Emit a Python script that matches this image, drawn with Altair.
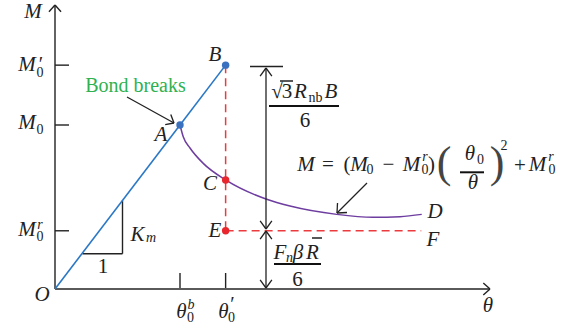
import math
import altair as alt
import pandas as pd

# Canvas and unit sizes (pixels per unit of theta and of M)
W, H = 575, 334
X0, Y0 = 55, 289
SX, SY = 125, 164
FONT = "Liberation Serif"


def tx(px):
    return (px - X0) / SX


def my(py):
    return (Y0 - py) / SY


# Characteristic values (theta in units of theta0^b, M in units of M0)
theta_b = 1.0
theta_p = 1.365
theta_end = 2.93
M_0 = 1.0
M_0p = 1.365
M_0r = 0.355
M_C = 0.665

# Elastic branch O -> A -> B
line_theta = [0.0, theta_b, theta_p]
line_M = [0.0, M_0, M_0p]

# Post-breakage branch A -> C -> D
curve_theta = [1.0, 1.026, 1.08, 1.186, theta_p, 1.694, 1.88, 2.254, 2.544, 2.76, 2.934]
curve_M = [M_0, 0.928, 0.86, 0.766, M_C, 0.547, 0.506, 0.455, 0.437, 0.441, 0.455]

# Marked states
blue_theta = [theta_b, theta_p]
blue_M = [M_0, M_0p]
red_theta = [theta_p, theta_p]
red_M = [M_C, M_0r]

ytick_vals = [M_0p, M_0, M_0r]
xtick_vals = [theta_b, theta_p]

xs = alt.Scale(domain=[tx(0), tx(W)], nice=False, zero=False)
ys = alt.Scale(domain=[my(H), my(0)], nice=False, zero=False)


def X(f):
    return alt.X(f, type="quantitative", scale=xs, axis=None)


def Y(f):
    return alt.Y(f, type="quantitative", scale=ys, axis=None)


def rules(df, color, width, dash=None):
    kw = dict(color=color, strokeWidth=width, strokeCap="butt")
    if dash:
        kw["strokeDash"] = dash
    return alt.Chart(df).mark_rule(**kw).encode(
        x=X("x"), y=Y("y"), x2=alt.X2("x2"), y2=alt.Y2("y2")
    )


def seg_df(segs):
    return pd.DataFrame(
        [dict(x=a[0], y=a[1], x2=b[0], y2=b[1]) for a, b in segs]
    )


def px_seg(p, q):
    return ((tx(p[0]), my(p[1])), (tx(q[0]), my(q[1])))


def head(tip, frm, length, ang):
    """Open arrowhead (two strokes) at tip, pointing away from frm (pixels)."""
    dx, dy = tip[0] - frm[0], tip[1] - frm[1]
    n = math.hypot(dx, dy)
    bx, by = -dx / n, -dy / n
    out = []
    for s in (1, -1):
        a = math.radians(ang) * s
        rx = bx * math.cos(a) - by * math.sin(a)
        ry = bx * math.sin(a) + by * math.cos(a)
        out.append(px_seg(tip, (tip[0] + length * rx, tip[1] + length * ry)))
    return out


# Axes
y_axis = rules(seg_df([((0, 0), (0, my(5)))]), "#222222", 1.4)
x_axis = rules(seg_df([((0, 0), (tx(490), 0))]), "#5a5a5a", 2)
axis_heads = rules(
    seg_df(head((55, 5), (55, 50), 9, 42) + head((490, 289), (400, 289), 9, 42)),
    "#222222", 1.4,
)
ticks = rules(
    seg_df([((0, v), (tx(69), v)) for v in ytick_vals]
           + [((v, 0), (v, my(273))) for v in xtick_vals]),
    "#222222", 1.4,
)

# Branches
elastic = alt.Chart(pd.DataFrame({"t": line_theta, "m": line_M})).mark_line(
    color="#2a78c6", strokeWidth=1.6
).encode(x=X("t"), y=Y("m"))

softening = alt.Chart(pd.DataFrame({"t": curve_theta, "m": curve_M})).mark_line(
    color="#6e3da0", strokeWidth=1.5, interpolate="monotone"
).encode(x=X("t"), y=Y("m"))

residual = rules(
    seg_df([((theta_p, M_0p), (theta_p, M_0r)), ((theta_p, M_0r), (theta_end, M_0r))]),
    "#ec3b3f", 1.5, dash=[8, 5],
)

blue_dots = alt.Chart(pd.DataFrame({"t": blue_theta, "m": blue_M})).mark_circle(
    color="#3a72c0", size=55, opacity=1
).encode(x=X("t"), y=Y("m"))

red_dots = alt.Chart(pd.DataFrame({"t": red_theta, "m": red_M})).mark_circle(
    color="#e8262e", size=55, opacity=1
).encode(x=X("t"), y=Y("m"))

# Slope triangle
tri = rules(
    seg_df([((0.22, 0.215), (0.54, 0.215)), ((0.54, 0.215), (0.54, 0.54))]),
    "#222222", 1.4,
)

# Leader arrows and dimension lines
ann = (
    [px_seg((127, 97), (174, 123))] + head((174, 123), (127, 97), 9, 40)
    + [px_seg((367, 183), (337, 213))] + head((337, 213), (367, 183), 10, 42)
    + [px_seg((250, 66.5), (283, 66.5)),
       px_seg((266, 68), (266, 229)),
       px_seg((266, 231), (266, 288))]
    + head((266, 68), (266, 120), 10, 36)
    + head((266, 229), (266, 180), 10, 36)
    + head((266, 231), (266, 270), 10, 36)
    + head((266, 288), (266, 250), 10, 36)
)
leaders = rules(seg_df(ann), "#222222", 1.3)

bars = rules(
    seg_df([px_seg((269, 106), (339, 106)),
            px_seg((274, 264), (321, 264)),
            px_seg((460, 172.3), (484, 172.3))]),
    "#111111", 2,
)
overlines = rules(
    seg_df([px_seg((280, 81), (293, 81)), px_seg((312, 238), (322, 238))]),
    "#111111", 1.4,
)

# Text pieces: (text, x px, y px, size, italic, color)
K = "#222222"
P = "#444444"
pieces = [
    ("M", 33, 12, 21, True, K),
    ("θ", 488, 306, 21, True, K),
    ("O", 42, 295, 21, True, K),
    # y tick labels
    ("M", 27, 65, 21, True, K), ("0", 40, 73, 14, False, K), ("′", 41, 65, 20, False, K),
    ("M", 27, 123, 21, True, K), ("0", 40, 130, 14, False, K),
    ("M", 27, 230, 21, True, K), ("r", 40, 225, 14, True, K), ("0", 40, 237, 14, False, K),
    # x tick labels
    ("θ", 181.5, 312, 21, True, K), ("b", 191, 305, 14, True, K), ("0", 190.5, 318, 14, False, K),
    ("θ", 223.5, 312, 21, True, K), ("′", 232.5, 305, 20, False, K), ("0", 231.5, 318, 14, False, K),
    # point labels
    ("A", 161, 135, 21, True, K), ("B", 215, 55, 21, True, K),
    ("C", 210, 184, 21, True, K), ("D", 435, 212, 21, True, K),
    ("E", 215, 231, 21, True, K), ("F", 433, 240, 21, True, K),
    ("K", 137.5, 234.5, 21, True, K), ("m", 151, 238, 14, True, K),
    ("1", 103, 267, 21, False, K),
    ("Bond breaks", 135.5, 86, 20, False, "#2fb14f"),
    # upper dimension fraction
    ("√", 277, 92, 21, False, K), ("3", 287, 92, 21, False, K),
    ("R", 300.5, 92, 21, True, K), ("nb", 315.5, 97.5, 14, False, K),
    ("B", 331, 92, 21, True, K), ("6", 305, 121, 21, False, K),
    # lower dimension fraction
    ("F", 280, 253, 21, True, K), ("n", 289.5, 258, 14, True, K),
    ("β", 298, 253, 21, True, K), ("R", 312.5, 253, 21, True, K),
    ("6", 297.5, 280, 21, False, K),
    # softening law
    ("M", 306, 165, 21, True, K), ("=", 328, 165, 21, False, K),
    ("(", 347, 164.5, 21, False, K), ("M", 359, 165, 21, True, K),
    ("0", 370, 169.5, 14, False, K), ("−", 388.5, 165, 21, False, K),
    ("M", 411.5, 165, 21, True, K), ("r", 425, 156.5, 14, True, K),
    ("0", 425, 170, 14, False, K), (")", 431.5, 164.5, 21, False, K),
    ("(", 444, 163.5, 44, False, P), ("θ", 470, 153.5, 21, True, K),
    ("0", 480.5, 160, 14, False, K), ("θ", 473, 182.5, 21, True, K),
    (")", 497, 163.5, 44, False, P), ("2", 504, 146, 14, False, K),
    ("+", 520, 166, 21, False, K), ("M", 537.5, 165, 21, True, K),
    ("r", 551, 156.5, 14, True, K), ("0", 552, 170, 14, False, K),
]

txt = pd.DataFrame(
    [dict(label=t, x=tx(a), y=my(b), size=s, italic=i, color=c)
     for t, a, b, s, i, c in pieces]
)


def text_layer(df, style):
    return alt.Chart(df).mark_text(
        font=FONT, fontStyle=style, align="center", baseline="middle"
    ).encode(
        x=X("x"), y=Y("y"), text="label:N",
        size=alt.Size("size:Q", scale=None),
        color=alt.Color("color:N", scale=None),
    )


italic_text = text_layer(txt[txt["italic"]], "italic")
roman_text = text_layer(txt[~txt["italic"]], "normal")

chart = alt.layer(
    residual, tri, ticks, y_axis, x_axis, axis_heads,
    softening, elastic, leaders, bars, overlines,
    blue_dots, red_dots, italic_text, roman_text,
).properties(
    width=W, height=H, padding=0, autosize="none", background="white"
).configure_view(stroke=None)

chart.save("out.html", embed_options={"renderer": "svg", "actions": False})
